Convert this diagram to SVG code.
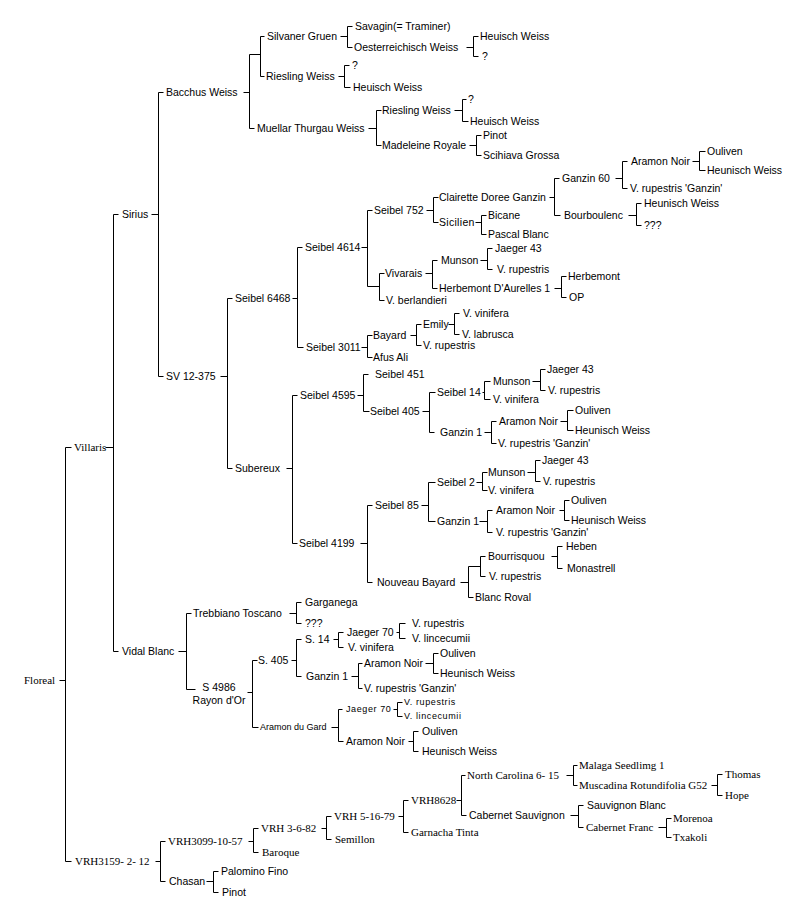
<svg xmlns="http://www.w3.org/2000/svg" width="799" height="918" viewBox="0 0 799 918">
<style>
text{fill:#000}
.s{font:10.5px "Liberation Sans",Arial,sans-serif}
.t{font:11px "Liberation Serif","Times New Roman",serif}
.m{font:9px "Liberation Sans",Arial,sans-serif}
.k{font:9px "Liberation Sans",Arial,sans-serif;letter-spacing:0.6px}
#connectors path{fill:none;stroke:#000;stroke-width:1}
</style>
<rect width="799" height="918" fill="#fff"/>
<g id="connectors" transform="translate(0.5,0.5)">
<path d="M59 680H65M65 447V861M65 447H71M65 861H71"/>
<path d="M105 447H113M113 214V651M113 214H118M113 651H118"/>
<path d="M151 214H158M158 92V376M158 92H163M158 376H163"/>
<path d="M243 92H249M249 54V128M249 54H260M260 36V76M260 36H264M260 76H264M249 128H254"/>
<path d="M340 36H347M347 26V47M347 26H352M347 47H352"/>
<path d="M466 47H473M473 36V56M473 36H478M473 56H478"/>
<path d="M338 76H344M344 65V87M344 65H349M344 87H350"/>
<path d="M368 128H376M376 110V145M376 110H381M376 145H381"/>
<path d="M454 110H462M462 99V121M462 99H466M462 121H468"/>
<path d="M469 145H476M476 135V155M476 135H481M476 155H481"/>
<path d="M220 376H227M227 298V468M227 298H232M227 468H232"/>
<path d="M292 298H297M297 247V347M297 247H302M297 347H303"/>
<path d="M361 247H367M367 210V286M367 210H372M367 286H379M379 273V300M379 273H384M379 300H384"/>
<path d="M426 210H433M433 197V222M433 197H438M433 222H438"/>
<path d="M475 222H481M481 215V234M481 215H486M481 234H486"/>
<path d="M549 197H554M554 178V215M554 178H559M554 215H560"/>
<path d="M615 178H622M622 161V188M622 161H627M622 188H627"/>
<path d="M692 161H699M699 151V170M699 151H705M699 170H705"/>
<path d="M628 215H636M636 203V225M636 203H641M636 225H641"/>
<path d="M425 273H432M432 260V288M432 260H437M432 288H437"/>
<path d="M480 260H487M487 248V269M487 248H492M487 269H492"/>
<path d="M554 288H561M561 276V297M561 276H566M561 297H566"/>
<path d="M361 347H367M367 335V357M367 335H372M367 357H372"/>
<path d="M410 335H416M416 324V345M416 324H421M416 345H421"/>
<path d="M448 324H454M454 313V334M454 313H459M454 334H459"/>
<path d="M286 468H292M292 395V543M292 395H297M292 543H297"/>
<path d="M357 395H363M363 374V411M363 374H368M363 411H369"/>
<path d="M422 411H429M429 392V432M429 392H435M429 432H434"/>
<path d="M482 392H484M484 381V399M484 381H490M484 399H490"/>
<path d="M532 381H540M540 369V390M540 369H545M540 390H545"/>
<path d="M484 432H491M491 421V443M491 421H496M491 443H496"/>
<path d="M560 421H567M567 410V430M567 410H573M567 430H573"/>
<path d="M360 543H367M367 505V582M367 505H372M367 582H372"/>
<path d="M421 505H428M428 482V521M428 482H435M428 521H435"/>
<path d="M476 482H482M482 472V490M482 472H487M482 490H487"/>
<path d="M527 472H535M535 460V481M535 460H540M535 481H540"/>
<path d="M479 521H487M487 510V532M487 510H492M487 532H492"/>
<path d="M559 510H564M564 500V520M564 500H569M564 520H569"/>
<path d="M460 582H468M468 566V597M468 566H480M480 556V576M480 556H485M480 576H485M468 597H473"/>
<path d="M551 556H557M557 546V568M557 546H562M557 568H562"/>
<path d="M178 651H186M186 613V689M186 613H191M186 689H195"/>
<path d="M247 692H252M252 660V727M252 660H257M252 727H258"/>
<path d="M289 613H296M296 602V623M296 602H301M296 623H301"/>
<path d="M291 660H296M296 639V676M296 639H301M296 676H301"/>
<path d="M333 639H338M338 632V647M338 632H343M338 647H343"/>
<path d="M396 632H399M399 623V638M399 623H405M399 638H405"/>
<path d="M351 676H358M358 663V688M358 663H362M358 688H362"/>
<path d="M425 663H433M433 653V673M433 653H438M433 673H438"/>
<path d="M331 727H338M338 709V741M338 709H342M338 741H343"/>
<path d="M393 709H397M397 702V716M397 702H402M397 716H402"/>
<path d="M408 741H413M413 731V751M413 731H418M413 751H418"/>
<path d="M155 861H160M160 841V881M160 841H165M160 881H165"/>
<path d="M248 841H253M253 828V852M253 828H258M253 852H258"/>
<path d="M321 828H326M326 816V839M326 816H331M326 839H331"/>
<path d="M398 816H403M403 800V832M403 800H408M403 832H408"/>
<path d="M456 800H461M461 775V815M461 775H465M461 815H466"/>
<path d="M566 775H573M573 765V785M573 765H577M573 785H577"/>
<path d="M711 785H717M717 774V795M717 774H722M717 795H722"/>
<path d="M570 815H578M578 805V827M578 805H583M578 827H583"/>
<path d="M658 827H666M666 818V837M666 818H671M666 837H671"/>
<path d="M206 881H213M213 871V892M213 871H218M213 892H218"/>
</g>
<g id="n-floreal"><text class="t" x="24" y="684">Floreal</text></g>
<g id="n-villaris"><text class="t" x="74" y="451">Villaris</text></g>
<g id="n-sirius"><text class="s" x="122" y="218">Sirius</text></g>
<g id="n-vidal-blanc"><text class="s" x="122" y="655">Vidal Blanc</text></g>
<g id="n-bacchus"><text class="s" x="166" y="96">Bacchus Weiss</text></g>
<g id="n-sv12375"><text class="s" x="166" y="380">SV 12-375</text></g>
<g id="n-silvaner"><text class="s" x="267" y="40">Silvaner Gruen</text></g>
<g id="n-riesling1"><text class="s" x="266" y="80">Riesling Weiss</text></g>
<g id="n-muellar"><text class="s" x="257" y="132">Muellar Thurgau Weiss</text></g>
<g id="n-savagin"><text class="s" x="355" y="30">Savagin(= Traminer)</text></g>
<g id="n-oesterr"><text class="s" x="354" y="51">Oesterreichisch Weiss</text></g>
<g id="n-heuisch1"><text class="s" x="480" y="40">Heuisch Weiss</text></g>
<g id="n-q1"><text class="s" x="482" y="60">?</text></g>
<g id="n-q2"><text class="s" x="352" y="69">?</text></g>
<g id="n-heuisch2"><text class="s" x="353" y="91">Heuisch Weiss</text></g>
<g id="n-riesling2"><text class="s" x="382" y="114">Riesling Weiss</text></g>
<g id="n-madeleine"><text class="s" x="382" y="149">Madeleine Royale</text></g>
<g id="n-q3"><text class="s" x="468" y="103">?</text></g>
<g id="n-heuisch3"><text class="s" x="470" y="125">Heuisch Weiss</text></g>
<g id="n-pinot1"><text class="s" x="483" y="139">Pinot</text></g>
<g id="n-scihiava"><text class="s" x="483" y="159">Scihiava Grossa</text></g>
<g id="n-seibel6468"><text class="s" x="235" y="302">Seibel 6468</text></g>
<g id="n-subereux"><text class="s" x="235" y="472">Subereux</text></g>
<g id="n-seibel4614"><text class="s" x="305" y="251">Seibel 4614</text></g>
<g id="n-seibel3011"><text class="s" x="306" y="351">Seibel 3011</text></g>
<g id="n-seibel752"><text class="s" x="374" y="214">Seibel 752</text></g>
<g id="n-vivarais"><text class="s" x="385" y="277">Vivarais</text></g>
<g id="n-berlandieri"><text class="s" x="386" y="304">V. berlandieri</text></g>
<g id="n-clairette"><text class="s" x="439" y="201">Clairette Doree Ganzin</text></g>
<g id="n-sicilien"><text class="s" x="439" y="226" letter-spacing="0.3">Sicilien</text></g>
<g id="n-bicane"><text class="s" x="488" y="219">Bicane</text></g>
<g id="n-pascal"><text class="s" x="488" y="238">Pascal Blanc</text></g>
<g id="n-ganzin60"><text class="s" x="562" y="182">Ganzin 60</text></g>
<g id="n-bourboulenc"><text class="s" x="564" y="219">Bourboulenc</text></g>
<g id="n-aramon1"><text class="s" x="631" y="165">Aramon Noir</text></g>
<g id="n-rupg1"><text class="s" x="630" y="192">V. rupestris 'Ganzin'</text></g>
<g id="n-ouliven1"><text class="s" x="707" y="155">Ouliven</text></g>
<g id="n-heunisch1"><text class="s" x="707" y="174">Heunisch Weiss</text></g>
<g id="n-heunisch2"><text class="s" x="644" y="207">Heunisch Weiss</text></g>
<g id="n-qqq1"><text class="s" x="644" y="229">???</text></g>
<g id="n-munson1"><text class="s" x="441" y="264">Munson</text></g>
<g id="n-herbemontda"><text class="s" x="439" y="292">Herbemont D'Aurelles 1</text></g>
<g id="n-jaeger43a"><text class="s" x="495" y="252">Jaeger 43</text></g>
<g id="n-rup1"><text class="s" x="497" y="273">V. rupestris</text></g>
<g id="n-herbemont"><text class="s" x="568" y="280">Herbemont</text></g>
<g id="n-op"><text class="s" x="569" y="301">OP</text></g>
<g id="n-bayard"><text class="s" x="373" y="339">Bayard</text></g>
<g id="n-afus"><text class="s" x="373" y="361">Afus Ali</text></g>
<g id="n-emily"><text class="s" x="423" y="328">Emily</text></g>
<g id="n-rup2"><text class="s" x="423" y="349">V. rupestris</text></g>
<g id="n-vinifera1"><text class="s" x="463" y="317">V. vinifera</text></g>
<g id="n-labrusca"><text class="s" x="462" y="338">V. labrusca</text></g>
<g id="n-seibel4595"><text class="s" x="300" y="399">Seibel 4595</text></g>
<g id="n-seibel4199"><text class="s" x="299" y="547">Seibel 4199</text></g>
<g id="n-seibel451"><text class="s" x="375" y="378">Seibel 451</text></g>
<g id="n-seibel405"><text class="s" x="370" y="415">Seibel 405</text></g>
<g id="n-seibel14"><text class="s" x="437" y="396">Seibel 14</text></g>
<g id="n-ganzin1a"><text class="s" x="440" y="436">Ganzin 1</text></g>
<g id="n-munson2"><text class="s" x="493" y="385">Munson</text></g>
<g id="n-vinifera2"><text class="s" x="493" y="403">V. vinifera</text></g>
<g id="n-jaeger43b"><text class="s" x="547" y="373">Jaeger 43</text></g>
<g id="n-rup3"><text class="s" x="548" y="394">V. rupestris</text></g>
<g id="n-aramon2"><text class="s" x="499" y="425">Aramon Noir</text></g>
<g id="n-rupg2"><text class="s" x="498" y="447">V. rupestris 'Ganzin'</text></g>
<g id="n-ouliven2"><text class="s" x="575" y="414">Ouliven</text></g>
<g id="n-heunisch3"><text class="s" x="575" y="434">Heunisch Weiss</text></g>
<g id="n-seibel85"><text class="s" x="375" y="509">Seibel 85</text></g>
<g id="n-nouveau"><text class="s" x="377" y="586">Nouveau Bayard</text></g>
<g id="n-seibel2"><text class="s" x="437" y="486">Seibel 2</text></g>
<g id="n-ganzin1b"><text class="s" x="437" y="525">Ganzin 1</text></g>
<g id="n-munson3"><text class="s" x="488" y="476">Munson</text></g>
<g id="n-vinifera3"><text class="s" x="488" y="494">V. vinifera</text></g>
<g id="n-jaeger43c"><text class="s" x="542" y="464">Jaeger 43</text></g>
<g id="n-rup4"><text class="s" x="543" y="485">V. rupestris</text></g>
<g id="n-aramon3"><text class="s" x="496" y="514">Aramon Noir</text></g>
<g id="n-rupg3"><text class="s" x="496" y="536">V. rupestris 'Ganzin'</text></g>
<g id="n-ouliven3"><text class="s" x="571" y="504">Ouliven</text></g>
<g id="n-heunisch4"><text class="s" x="571" y="524">Heunisch Weiss</text></g>
<g id="n-bourrisquou"><text class="s" x="488" y="560">Bourrisquou</text></g>
<g id="n-rup5"><text class="s" x="489" y="580">V. rupestris</text></g>
<g id="n-blancroval"><text class="s" x="475" y="601">Blanc Roval</text></g>
<g id="n-heben"><text class="s" x="566" y="550">Heben</text></g>
<g id="n-monastrell"><text class="s" x="567" y="572">Monastrell</text></g>
<g id="n-trebbiano"><text class="s" x="193" y="617">Trebbiano Toscano</text></g>
<g id="n-s4986"><text class="s" x="219" y="691" text-anchor="middle">S 4986</text><text class="s" x="219" y="704" text-anchor="middle">Rayon d'Or</text></g>
<g id="n-garganega"><text class="s" x="305" y="606">Garganega</text></g>
<g id="n-qqq2"><text class="s" x="305" y="627">???</text></g>
<g id="n-s405"><text class="s" x="258" y="664">S. 405</text></g>
<g id="n-aramongard"><text class="m" x="260" y="730">Aramon du Gard</text></g>
<g id="n-s14"><text class="s" x="305" y="643">S. 14</text></g>
<g id="n-ganzin1c"><text class="s" x="306" y="680">Ganzin 1</text></g>
<g id="n-jaeger70a"><text class="s" x="347" y="636">Jaeger 70</text></g>
<g id="n-vinifera4"><text class="s" x="348" y="651">V. vinifera</text></g>
<g id="n-rup6"><text class="s" x="412" y="627">V. rupestris</text></g>
<g id="n-lincecumii1"><text class="s" x="412" y="642">V. lincecumii</text></g>
<g id="n-aramon4"><text class="s" x="364" y="667">Aramon Noir</text></g>
<g id="n-rupg4"><text class="s" x="364" y="692">V. rupestris 'Ganzin'</text></g>
<g id="n-ouliven4"><text class="s" x="440" y="657">Ouliven</text></g>
<g id="n-heunisch5"><text class="s" x="440" y="677">Heunisch Weiss</text></g>
<g id="n-jaeger70b"><text class="k" x="346" y="712">Jaeger 70</text></g>
<g id="n-aramon5"><text class="s" x="346" y="745">Aramon Noir</text></g>
<g id="n-rup7"><text class="k" x="404" y="705">V. rupestris</text></g>
<g id="n-lincecumii2"><text class="k" x="404" y="719">V. lincecumii</text></g>
<g id="n-ouliven5"><text class="s" x="422" y="735">Ouliven</text></g>
<g id="n-heunisch6"><text class="s" x="422" y="755">Heunisch Weiss</text></g>
<g id="n-vrh3159"><text class="t" x="75" y="865">VRH3159- 2- 12</text></g>
<g id="n-vrh3099"><text class="t" x="168" y="845">VRH3099-10-57</text></g>
<g id="n-chasan"><text class="s" x="169" y="885">Chasan</text></g>
<g id="n-vrh3682"><text class="t" x="261" y="832">VRH 3-6-82</text></g>
<g id="n-baroque"><text class="t" x="262" y="856">Baroque</text></g>
<g id="n-palomino"><text class="s" x="221" y="875">Palomino Fino</text></g>
<g id="n-pinot2"><text class="s" x="222" y="896">Pinot</text></g>
<g id="n-vrh51679"><text class="t" x="334" y="820">VRH 5-16-79</text></g>
<g id="n-semillon"><text class="t" x="335" y="843">Semillon</text></g>
<g id="n-vrh8628"><text class="t" x="411" y="804">VRH8628</text></g>
<g id="n-garnacha"><text class="t" x="411" y="836">Garnacha Tinta</text></g>
<g id="n-northcarolina"><text class="t" x="467" y="779">North Carolina 6- 15</text></g>
<g id="n-cabsauv"><text class="s" x="469" y="819">Cabernet Sauvignon</text></g>
<g id="n-malaga"><text class="t" x="579" y="769">Malaga Seedlimg 1</text></g>
<g id="n-muscadina"><text class="t" x="579" y="789">Muscadina Rotundifolia G52</text></g>
<g id="n-thomas"><text class="t" x="725" y="778">Thomas</text></g>
<g id="n-hope"><text class="t" x="725" y="799">Hope</text></g>
<g id="n-sauvblanc"><text class="s" x="587" y="809">Sauvignon Blanc</text></g>
<g id="n-cabfranc"><text class="t" x="586" y="831">Cabernet Franc</text></g>
<g id="n-morenoa"><text class="t" x="673" y="822">Morenoa</text></g>
<g id="n-txakoli"><text class="t" x="673" y="841">Txakoli</text></g>
</svg>
